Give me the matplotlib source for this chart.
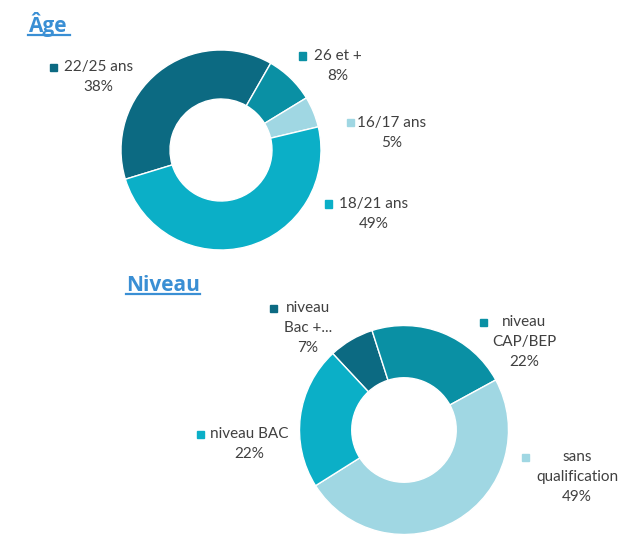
import matplotlib.pyplot as plt
from matplotlib.patches import Rectangle
from matplotlib.lines import Line2D

W, H = 628, 537

# données
age_labels = ['22/25 ans', '26 et +', '16/17 ans', '18/21 ans']
age_values = [38, 8, 5, 49]
age_colors = ['#0c6a82', '#0a90a4', '#a0d7e3', '#0bafc7']

niv_labels = ['niveau\nBac +...', 'niveau\nCAP/BEP', 'sans\nqualification', 'niveau BAC']
niv_values = [7, 22, 49, 22]
niv_colors = ['#0c6a82', '#0a90a4', '#a0d7e3', '#0bafc7']

TXT = '#404040'
BLUE = '#3a8fd4'
FONT = ['Lato', 'DejaVu Sans']

fig = plt.figure(figsize=(W / 100, H / 100), dpi=100)


def px(x, y):
    return x / W, 1 - y / H


def donut(cx, cy, r, values, colors, start, width):
    ax = fig.add_axes([(cx - r) / W, 1 - (cy + r) / H, 2 * r / W, 2 * r / H])
    ax.pie(values, colors=colors, startangle=start, counterclock=False,
           wedgeprops=dict(width=width, edgecolor='white', linewidth=1))
    ax.set_xlim(-1, 1)
    ax.set_ylim(-1, 1)
    ax.set_aspect('auto')
    ax.axis('off')


def title(x, y, s, x2):
    fig.text(*px(x, y), s, fontsize=15, fontweight='bold', color=BLUE,
             family=['Open Sans', 'DejaVu Sans'], ha='left', va='baseline')
    fig.add_artist(Line2D([x / W, x2 / W], [1 - (y + 3) / H] * 2, color=BLUE, lw=1.6))


def label(mx, cx, y, name, value, color):
    fig.add_artist(Rectangle(px(mx - 3.5, y + 3.5), 7 / W, 7 / H, color=color,
                             transform=fig.transFigure))
    lines = name.split('\n') + ['%d%%' % value]
    for i, s in enumerate(lines):
        fig.text(*px(cx, y + 20 * i), s, fontsize=11, color=TXT, family=FONT,
                 ha='center', va='center')


title(28, 32, 'Âge', 70)
donut(221, 150, 100, age_values, age_colors, 197, 0.49)
age_pos = [(53, 98.5, 67), (302, 337.5, 56), (350, 392, 123), (328, 373.5, 204)]
for (mx, cx, y), n, v, c in zip(age_pos, age_labels, age_values, age_colors):
    label(mx, cx, y, n, v, c)

title(126, 291, 'Niveau', 200)
donut(404, 430, 104.5, niv_values, niv_colors, 133, 0.5)
niv_pos = [(273, 308, 308), (483, 524, 322), (525, 577, 457), (200, 249, 434)]
for (mx, cx, y), n, v, c in zip(niv_pos, niv_labels, niv_values, niv_colors):
    label(mx, cx, y, n, v, c)

fig.savefig('out.png', dpi=100)
